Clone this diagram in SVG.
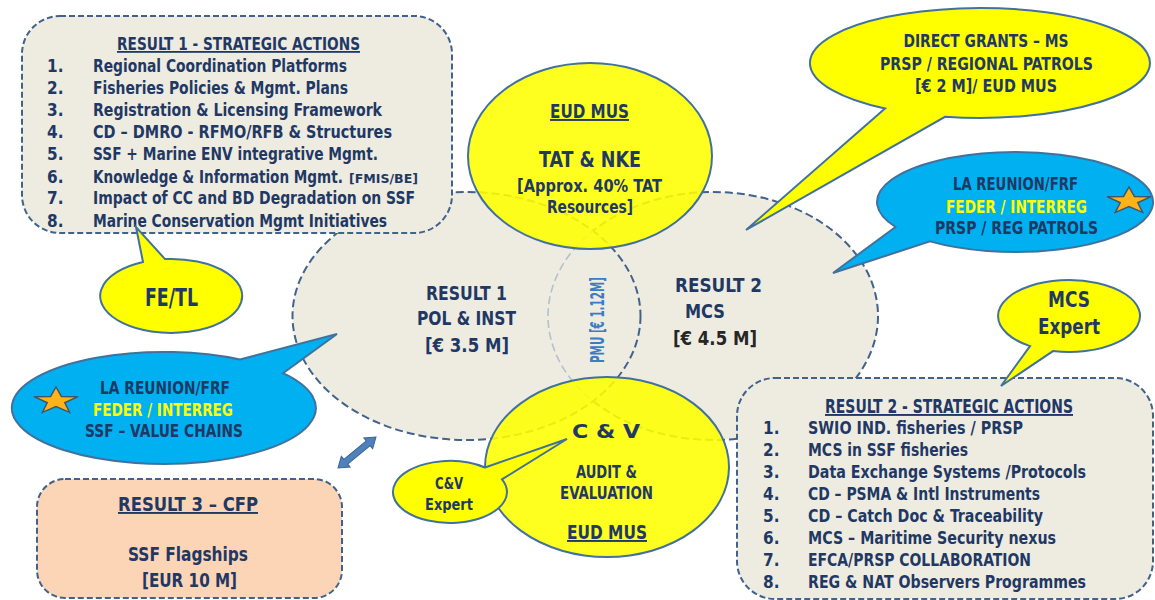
<svg xmlns="http://www.w3.org/2000/svg" xmlns:xlink="http://www.w3.org/1999/xlink" width="1155" height="600" viewBox="0 0 1155 600">
  <style>
    .t{font-family:"Liberation Sans Narrow","DejaVu Sans Condensed","Roboto Condensed","Liberation Sans",sans-serif;font-weight:bold;fill:#1F3864;font-stretch:condensed}
    .c{text-anchor:middle}
    .s13{font-size:13px}.s15{font-size:15px}.s17{font-size:17px}.s18{font-size:18px}.s19{font-size:19px}.s20{font-size:20px}.s21{font-size:21px}.s22{font-size:22px}.s25{font-size:25px}
    .ul{text-decoration:underline}
    .fy{fill:#FFFF00}
    .blk{fill:#262626}
    .pmu{fill:#3B7DC4;font-size:19px}
    .geo{font-family:"DejaVu Sans","Liberation Sans",sans-serif;font-weight:bold;fill:#1F3864}
    .zone{fill:#EEECE1;stroke:#41628B;stroke-width:2;stroke-dasharray:8 4}
    .box{stroke:#41628B;stroke-width:2;stroke-dasharray:6 3}
    .yel{fill:#FFFF00;stroke:#41719C;stroke-width:2}
    .blu{fill:#00B0F0;stroke:#41719C;stroke-width:2}
    .star{fill:#FFB319;stroke:#44546A;stroke-width:1.5}
  </style>
  <defs>
    <clipPath id="r1clip"><ellipse cx="466.5" cy="316" rx="174" ry="124"/></clipPath>
    <path id="star" d="M0,-14 L5.43,-4.53 L21.96,-4.33 L8.79,1.73 L13.58,11.33 L0,5.6 L-13.58,11.33 L-8.79,1.73 L-21.96,-4.33 L-5.43,-4.53 Z"/>
  </defs>
  <rect width="1155" height="600" fill="#FFFFFF"/>

  <!-- Result 2 zone -->
  <g id="result2">
    <ellipse class="zone" cx="713" cy="316" rx="165" ry="124"/>
    <text class="t c s20" x="718.5" y="292" textLength="87" lengthAdjust="spacingAndGlyphs">RESULT 2</text>
    <text class="t c s20" x="705" y="318" textLength="40" lengthAdjust="spacingAndGlyphs">MCS</text>
    <text class="t c s20 blk" x="715" y="345" textLength="84" lengthAdjust="spacingAndGlyphs">[€ 4.5 M]</text>
  </g>

  <!-- Result 1 zone, with the Result 2 outline showing faintly through the overlap -->
  <g id="result1">
    <ellipse class="zone" cx="466.5" cy="316" rx="174" ry="124"/>
    <ellipse cx="713" cy="316" rx="165" ry="124" fill="none" stroke="#B4C0CF" stroke-width="1.6" stroke-dasharray="8 4" clip-path="url(#r1clip)"/>
    <text class="t c s20" x="466.5" y="300" textLength="81" lengthAdjust="spacingAndGlyphs">RESULT 1</text>
    <text class="t c s20" x="466.5" y="325" textLength="99" lengthAdjust="spacingAndGlyphs">POL &amp; INST</text>
    <text class="t c s20" x="467" y="352" textLength="84" lengthAdjust="spacingAndGlyphs">[€ 3.5 M]</text>
  </g>

  <!-- PMU label in the overlap -->
  <g id="pmu">
    <text class="t c pmu" transform="translate(604,320) rotate(-90)" x="0" y="0" textLength="86" lengthAdjust="spacingAndGlyphs">PMU [€ 1.12M]</text>
  </g>

  <!-- Result 1 strategic actions -->
  <g id="result1-actions">
    <rect class="box" x="22" y="16" width="430" height="217" rx="38" fill="#EEECE1"/>
    <text class="t c s18 ul" x="238.5" y="50" textLength="243" lengthAdjust="spacingAndGlyphs">RESULT 1 - STRATEGIC ACTIONS</text>
    <g class="t s17">
      <text x="47" y="72">1.</text>
      <text x="47" y="94">2.</text>
      <text x="47" y="116">3.</text>
      <text x="47" y="138">4.</text>
      <text x="47" y="160">5.</text>
      <text x="47" y="183">6.</text>
      <text x="47" y="204">7.</text>
      <text x="47" y="227">8.</text>
      <text x="93" y="72" textLength="254" lengthAdjust="spacingAndGlyphs">Regional Coordination Platforms</text>
      <text x="93" y="94" textLength="255" lengthAdjust="spacingAndGlyphs">Fisheries Policies &amp; Mgmt. Plans</text>
      <text x="93" y="116" textLength="289" lengthAdjust="spacingAndGlyphs">Registration &amp; Licensing Framework</text>
      <text x="93" y="138" textLength="299" lengthAdjust="spacingAndGlyphs">CD – DMRO - RFMO/RFB &amp; Structures</text>
      <text x="93" y="160" textLength="285" lengthAdjust="spacingAndGlyphs">SSF + Marine ENV integrative Mgmt.</text>
      <text transform="translate(93,183) scale(0.85,1)" x="0" y="0" textLength="294" lengthAdjust="spacingAndGlyphs">Knowledge &amp; Information Mgmt.</text>
      <text class="s13" x="349" y="183" textLength="69" lengthAdjust="spacingAndGlyphs">[FMIS/BE]</text>
      <text x="93" y="204" textLength="322" lengthAdjust="spacingAndGlyphs">Impact of CC and BD Degradation on SSF</text>
      <text x="93" y="227" textLength="294" lengthAdjust="spacingAndGlyphs">Marine Conservation Mgmt Initiatives</text>
    </g>
  </g>

  <!-- Result 2 strategic actions -->
  <g id="result2-actions">
    <rect class="box" x="737" y="378" width="416" height="221" rx="38" fill="#EEECE1"/>
    <text class="t c s19 ul" x="949" y="413" textLength="248" lengthAdjust="spacingAndGlyphs">RESULT 2 - STRATEGIC ACTIONS</text>
    <g class="t s17">
      <text x="763" y="434">1.</text>
      <text x="763" y="456">2.</text>
      <text x="763" y="478">3.</text>
      <text x="763" y="500">4.</text>
      <text x="763" y="522">5.</text>
      <text x="763" y="544">6.</text>
      <text x="763" y="566">7.</text>
      <text x="763" y="588">8.</text>
      <text x="808" y="434" textLength="215" lengthAdjust="spacingAndGlyphs">SWIO IND. fisheries / PRSP</text>
      <text x="808" y="456" textLength="160" lengthAdjust="spacingAndGlyphs">MCS in SSF fisheries</text>
      <text x="808" y="478" textLength="278" lengthAdjust="spacingAndGlyphs">Data Exchange Systems /Protocols</text>
      <text x="808" y="500" textLength="232" lengthAdjust="spacingAndGlyphs">CD – PSMA &amp; Intl Instruments</text>
      <text x="808" y="522" textLength="235" lengthAdjust="spacingAndGlyphs">CD – Catch Doc &amp; Traceability</text>
      <text x="808" y="544" textLength="248" lengthAdjust="spacingAndGlyphs">MCS – Maritime Security nexus</text>
      <text x="808" y="566" textLength="223" lengthAdjust="spacingAndGlyphs">EFCA/PRSP COLLABORATION</text>
      <text x="808" y="588" textLength="278" lengthAdjust="spacingAndGlyphs">REG &amp; NAT Observers Programmes</text>
    </g>
  </g>

  <!-- Result 3 -->
  <g id="result3">
    <rect class="box" x="37" y="479" width="305" height="119" rx="28" fill="#FBD5B5"/>
    <text class="t c s19 ul" x="188" y="511" textLength="140" lengthAdjust="spacingAndGlyphs">RESULT 3 – CFP</text>
    <text class="t c s19" x="188" y="561" textLength="120" lengthAdjust="spacingAndGlyphs">SSF Flagships</text>
    <text class="t c s19" x="189.5" y="587" textLength="95" lengthAdjust="spacingAndGlyphs">[EUR 10 M]</text>
  </g>

  <!-- Technical assistance -->
  <g id="tat">
    <ellipse class="yel" cx="590" cy="156" rx="122" ry="93" fill-opacity="0.88"/>
    <text class="t c s19 ul" x="589.5" y="118" textLength="79" lengthAdjust="spacingAndGlyphs">EUD MUS</text>
    <text class="t c s22" x="590" y="167" textLength="102" lengthAdjust="spacingAndGlyphs">TAT &amp; NKE</text>
    <text class="t c s18" x="589.5" y="192" textLength="145" lengthAdjust="spacingAndGlyphs">[Approx. 40% TAT</text>
    <text class="t c s18" x="590" y="213" textLength="86" lengthAdjust="spacingAndGlyphs">Resources]</text>
  </g>

  <!-- Control and verification -->
  <g id="cv">
    <ellipse class="yel" cx="607" cy="467" rx="122" ry="90" fill-opacity="0.88"/>
    <text class="geo c s20" x="606" y="438" textLength="68" lengthAdjust="spacingAndGlyphs">C &amp; V</text>
    <text class="t c s17" x="606.5" y="478" textLength="61" lengthAdjust="spacingAndGlyphs">AUDIT &amp;</text>
    <text class="t c s17" x="606.5" y="499" textLength="93" lengthAdjust="spacingAndGlyphs">EVALUATION</text>
    <text class="t c s19 ul" x="607" y="539" textLength="80" lengthAdjust="spacingAndGlyphs">EUD MUS</text>
  </g>

  <!-- Callouts -->
  <g id="fe-tl">
    <path class="yel" d="M143,262 L136,227 L165,259.1 A71,37 0 1 1 143,262 Z"/>
    <text class="t c s25" x="171.5" y="306" textLength="53" lengthAdjust="spacingAndGlyphs">FE/TL</text>
  </g>

  <g id="reunion-ssf">
    <path class="blu" d="M240,359.5 L337,334 L283,373.2 A152,56 0 1 1 240,359.5 Z"/>
    <use xlink:href="#star" href="#star" class="star" transform="translate(56,401)"/>
    <text class="t c s17" x="165" y="394" textLength="130" lengthAdjust="spacingAndGlyphs">LA REUNION/FRF</text>
    <text class="t c s17 fy" x="163" y="416" textLength="140" lengthAdjust="spacingAndGlyphs">FEDER / INTERREG</text>
    <text class="t c s17" x="164" y="437" textLength="158" lengthAdjust="spacingAndGlyphs">SSF – VALUE CHAINS</text>
  </g>

  <g id="reunion-patrols">
    <path class="blu" d="M895.5,227 L833,273 L930,241.4 A138,50 0 1 0 895.5,227 Z"/>
    <use xlink:href="#star" href="#star" class="star" transform="translate(1129,201)"/>
    <text class="t c s17" x="1015.5" y="190" textLength="125" lengthAdjust="spacingAndGlyphs">LA REUNION/FRF</text>
    <text class="t c s17 fy" x="1016.5" y="213" textLength="141" lengthAdjust="spacingAndGlyphs">FEDER / INTERREG</text>
    <text class="t c s17" x="1016.5" y="234" textLength="163" lengthAdjust="spacingAndGlyphs">PRSP / REG PATROLS</text>
  </g>

  <g id="direct-grants">
    <path class="yel" d="M885,108.6 L746,230 L945,116.8 A170,55 0 1 0 885,108.6 Z"/>
    <text class="t c s18" x="986" y="47" textLength="165" lengthAdjust="spacingAndGlyphs">DIRECT GRANTS – MS</text>
    <text class="t c s18" x="986.5" y="70" textLength="213" lengthAdjust="spacingAndGlyphs">PRSP / REGIONAL PATROLS</text>
    <text class="t c s18" x="986" y="92" textLength="142" lengthAdjust="spacingAndGlyphs">[€ 2 M]/ EUD MUS</text>
  </g>

  <g id="mcs-expert">
    <path class="yel" d="M1030,346.1 L1001,386 L1053,351.1 A71,36 0 1 0 1030,346.1 Z"/>
    <text class="t c s21" x="1069" y="307" textLength="42" lengthAdjust="spacingAndGlyphs">MCS</text>
    <text class="t c s21" x="1069" y="334" textLength="62" lengthAdjust="spacingAndGlyphs">Expert</text>
  </g>

  <g id="cv-expert">
    <path class="yel" d="M485,467.5 L567,439 L502,479.3 A57,31 0 1 1 485,467.5 Z"/>
    <text class="t c s15" x="449" y="489" textLength="28" lengthAdjust="spacingAndGlyphs">C&amp;V</text>
    <text class="t c s15" x="449" y="510" textLength="48" lengthAdjust="spacingAndGlyphs">Expert</text>
  </g>

  <!-- Connectors -->
  <g id="connectors">
    <path d="M-24.5,0 L-14.5,-7 L-14.5,-3 L14.5,-3 L14.5,-7 L24.5,0 L14.5,7 L14.5,3 L-14.5,3 L-14.5,7 Z" transform="translate(357,452.5) rotate(-39.2)" fill="#4F81BD" stroke="#3A6491" stroke-width="1"/>
  </g>
</svg>
